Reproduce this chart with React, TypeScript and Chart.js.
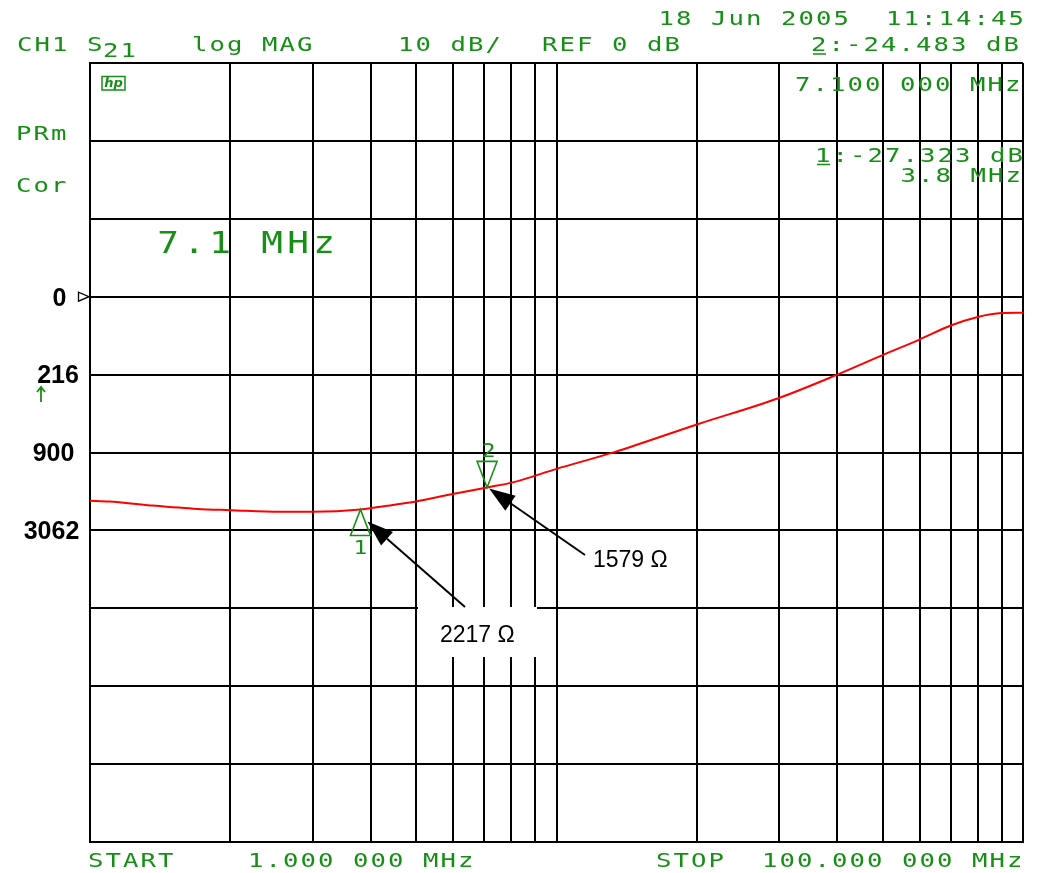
import React, { useEffect, useRef } from "react";
import { Chart, registerables } from "chart.js";

Chart.register(...registerables);

// ---- data ----
const freqMHz = [1, 1.1, 1.35, 1.7, 2, 2.56, 3, 3.8, 4.5, 5, 5.8, 7.1, 8.1, 10, 13.3, 20, 30, 40, 50, 60, 70, 80, 90, 100];
const s21dB = [-26.2, -26.3, -26.8, -27.25, -27.4, -27.6, -27.6, -27.32, -26.7, -26.3, -25.5, -24.48, -23.8, -22.1, -19.95, -16.4, -13.0, -10.0, -7.5, -5.5, -3.7, -2.6, -2.1, -2.05];
const gridFreqs = [1, 2, 3, 4, 5, 6, 7, 8, 9, 10, 20, 30, 40, 50, 60, 70, 80, 90, 100];
const markerFreqs = [3.8, 7.1];
const markerDB = [-27.323, -24.483];
const markerNames = ["1", "2"];
const impedanceLabels = ["0", "216", "900", "3062"];
const impedanceLevelsDB = [0, -10, -20, -30];
const annotationTexts = ["2217 Ω", "1579 Ω"];

const GREEN = "#178f17";

function drawMono(ctx: CanvasRenderingContext2D, text: string, x0: number, baseline: number, pitch = 17.5, size = 19, sx = 1.35) {
  ctx.save();
  ctx.fillStyle = GREEN;
  ctx.font = `${size}px "DejaVu Sans Mono"`;
  ctx.textAlign = "center";
  ctx.textBaseline = "alphabetic";
  for (let i = 0; i < text.length; i++) {
    const ch = text[i];
    if (ch === " ") continue;
    const cx = x0 + pitch * (i + 0.5);
    ctx.save();
    ctx.translate(cx, baseline);
    ctx.scale(sx, 1);
    ctx.fillText(ch, 0, 0);
    ctx.restore();
  }
  ctx.restore();
}

function arrow(ctx: CanvasRenderingContext2D, x1: number, y1: number, x2: number, y2: number) {
  const ang = Math.atan2(y2 - y1, x2 - x1);
  const len = 26, hw = 9;
  ctx.save();
  ctx.strokeStyle = "#000";
  ctx.fillStyle = "#000";
  ctx.lineWidth = 2;
  const bx = x2 - len * Math.cos(ang), by = y2 - len * Math.sin(ang);
  ctx.beginPath();
  ctx.moveTo(x1, y1);
  ctx.lineTo(bx, by);
  ctx.stroke();
  ctx.beginPath();
  ctx.moveTo(x2, y2);
  ctx.lineTo(bx + hw * Math.sin(ang), by - hw * Math.cos(ang));
  ctx.lineTo(bx - hw * Math.sin(ang), by + hw * Math.cos(ang));
  ctx.closePath();
  ctx.fill();
  ctx.restore();
}

const overlay = {
  id: "overlay",
  afterDraw(chart: any) {
    const ctx: CanvasRenderingContext2D = chart.ctx;
    const xs = chart.scales.x, ys = chart.scales.y;

    // green header texts
    drawMono(ctx, "18 Jun 2005  11:14:45", 657.5, 25);
    drawMono(ctx, "CH1", 16, 51);
    drawMono(ctx, "S", 86, 51);
    drawMono(ctx, "21", 102, 57);
    drawMono(ctx, "log MAG", 191, 51);
    drawMono(ctx, "10 dB/", 397, 51);
    drawMono(ctx, "REF 0 dB", 541, 51);
    drawMono(ctx, "2:-24.483 dB", 810, 51);
    drawMono(ctx, "7.100 000 MHz", 794, 90.5);
    drawMono(ctx, "PRm", 15, 139.5);
    drawMono(ctx, "Cor", 15, 191.5);
    drawMono(ctx, "1:-27.323 dB", 814, 161.5);
    drawMono(ctx, "3.8 MHz", 899.5, 181.5);
    drawMono(ctx, "7.1 MHz", 155, 253, 26, 30, 1.2);
    drawMono(ctx, "START", 87, 867);
    drawMono(ctx, "1.000 000 MHz", 247, 867);
    drawMono(ctx, "STOP", 655, 867);
    drawMono(ctx, "100.000 000 MHz", 761, 867);

    // underlines for marker numbers
    ctx.save();
    ctx.strokeStyle = GREEN;
    ctx.lineWidth = 1.5;
    ctx.beginPath();
    ctx.moveTo(813, 54); ctx.lineTo(826, 54);
    ctx.moveTo(817, 164.5); ctx.lineTo(830, 164.5);
    ctx.stroke();
    ctx.restore();

    // hp logo
    ctx.save();
    ctx.strokeStyle = GREEN;
    ctx.fillStyle = GREEN;
    ctx.lineWidth = 1.5;
    ctx.strokeRect(102, 76.5, 23, 13.5);
    ctx.font = 'italic bold 13px "DejaVu Sans"';
    ctx.textAlign = "center";
    ctx.textBaseline = "middle";
    ctx.fillText("hp", 113.5, 83.5);
    ctx.restore();

    // green up arrow at left
    ctx.save();
    ctx.strokeStyle = GREEN;
    ctx.lineWidth = 1.8;
    ctx.beginPath();
    ctx.moveTo(41, 402); ctx.lineTo(41, 387);
    ctx.moveTo(37, 392); ctx.lineTo(41, 387); ctx.lineTo(45, 392);
    ctx.stroke();
    ctx.restore();

    // reference position triangle
    const y0 = ys.getPixelForValue(0);
    ctx.save();
    ctx.fillStyle = "#fff";
    ctx.strokeStyle = "#000";
    ctx.lineWidth = 1.3;
    ctx.beginPath();
    ctx.moveTo(78.5, y0 - 4.5);
    ctx.lineTo(78.5, y0 + 4.5);
    ctx.lineTo(89, y0);
    ctx.closePath();
    ctx.fill();
    ctx.stroke();
    ctx.restore();

    // impedance labels on left
    const labelCx = [59.5, 58, 53.5, 51.5];
    ctx.save();
    ctx.fillStyle = "#000";
    ctx.font = 'bold 25px "Liberation Sans"';
    ctx.textAlign = "center";
    ctx.textBaseline = "middle";
    impedanceLabels.forEach((t, i) => {
      ctx.fillText(t, labelCx[i], ys.getPixelForValue(impedanceLevelsDB[i]) + 2);
    });
    ctx.restore();

    // markers
    const m1x = xs.getPixelForValue(markerFreqs[0]), m1y = ys.getPixelForValue(markerDB[0]);
    const m2x = xs.getPixelForValue(markerFreqs[1]), m2y = ys.getPixelForValue(markerDB[1]);
    ctx.save();
    ctx.strokeStyle = GREEN;
    ctx.lineWidth = 1.6;
    ctx.beginPath();
    ctx.moveTo(m1x, m1y);
    ctx.lineTo(m1x - 10, m1y + 26);
    ctx.lineTo(m1x + 10, m1y + 26);
    ctx.closePath();
    ctx.moveTo(m2x, m2y);
    ctx.lineTo(m2x - 10, m2y - 26);
    ctx.lineTo(m2x + 10, m2y - 26);
    ctx.closePath();
    ctx.stroke();
    ctx.restore();
    drawMono(ctx, markerNames[0], m1x - 8.5, m1y + 44, 17, 19, 1.2);
    drawMono(ctx, markerNames[1], m2x - 7, m2y - 30, 17, 19, 1.2);

    // annotation box + texts
    ctx.save();
    ctx.fillStyle = "#fff";
    ctx.fillRect(418, 607, 119, 50);
    ctx.fillStyle = "#000";
    ctx.font = '23px "Liberation Sans"';
    ctx.textAlign = "left";
    ctx.textBaseline = "alphabetic";
    ctx.fillText(annotationTexts[0], 440, 642);
    ctx.fillText(annotationTexts[1], 593, 567);
    ctx.restore();

    arrow(ctx, 465, 607, m1x + 7, m1y + 12);
    arrow(ctx, 585, 555, m2x + 2, m2y + 1);
  },
};

export default function App() {
  const ref = useRef<HTMLCanvasElement>(null);
  useEffect(() => {
    if (!ref.current) return;
    const chart = new Chart(ref.current, {
      type: "line",
      data: {
        datasets: [
          {
            data: freqMHz.map((f, i) => ({ x: f, y: s21dB[i] })),
            borderColor: "#ff0000",
            borderWidth: 2,
            pointRadius: 0,
            cubicInterpolationMode: "monotone",
            fill: false,
          },
        ],
      },
      options: {
        animation: false,
        responsive: false,
        devicePixelRatio: 1,
        layout: { padding: { left: 90, right: 18, top: 63, bottom: 31 } },
        plugins: { legend: { display: false }, tooltip: { enabled: false } },
        scales: {
          x: {
            type: "logarithmic",
            min: 1,
            max: 100,
            afterBuildTicks: (axis: any) => {
              axis.ticks = gridFreqs.map((v) => ({ value: v }));
            },
            ticks: { display: false },
            grid: { color: "#000", lineWidth: 2, drawTicks: false },
            border: { display: true, color: "#000", width: 2 },
          },
          y: {
            type: "linear",
            min: -70,
            max: 30,
            ticks: { display: false, stepSize: 10 },
            grid: { color: "#000", lineWidth: 2, drawTicks: false },
            border: { display: true, color: "#000", width: 2 },
          },
        },
      },
      plugins: [overlay],
    } as any);
    return () => chart.destroy();
  }, []);
  return (
    <div style={{ position: "absolute", left: 0, top: 0, width: 1041, height: 873, background: "#fff" }}>
      <canvas ref={ref} width={1041} height={873} style={{ display: "block" }} />
    </div>
  );
}
